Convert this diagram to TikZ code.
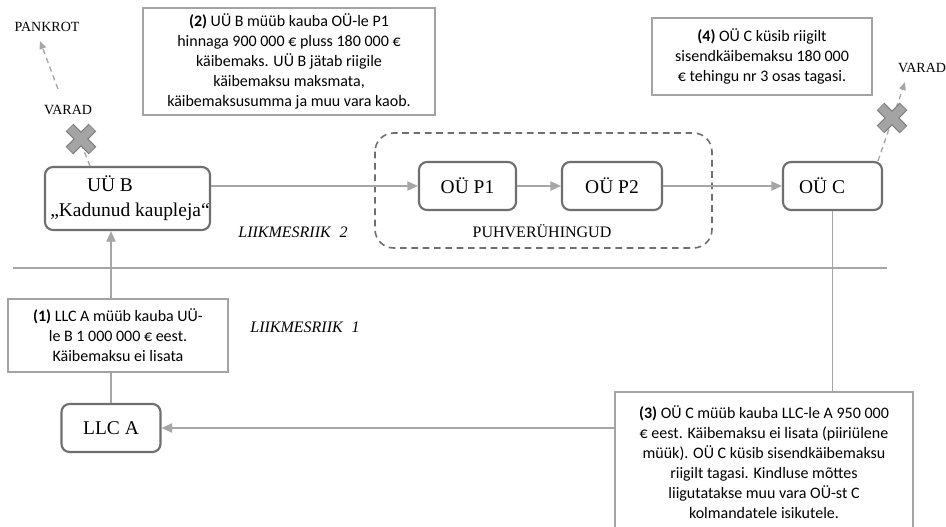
\documentclass[tikz,border=0pt]{standalone}
\usepackage{fontspec}
\setmainfont{Liberation Serif}
\newfontfamily\boxfont{Carlito}
\usetikzlibrary{arrows.meta,calc}

\definecolor{linegray}{HTML}{A6A6A6}
\definecolor{framegray}{HTML}{6F6F6F}
\definecolor{boxgray}{HTML}{A3A3A3}
\definecolor{crossfill}{HTML}{A4A4A4}
\definecolor{crossedge}{HTML}{7F7F7F}

\begin{document}
\begin{tikzpicture}[x=0.75pt,y=-0.75pt,
  firm/.style={draw=framegray, line width=1.6pt, rounded corners=6pt, fill=white, inner sep=0pt},
  firmtext/.style={font=\fontsize{14.6}{16}\selectfont, inner sep=0pt},
  notebox/.style={draw=boxgray, line width=1.3pt, fill=white, align=center, inner sep=0pt,
                  font=\boxfont\fontsize{12}{15}\selectfont},
  flow/.style={draw=linegray, line width=1.1pt, -{Triangle[length=8pt,width=7pt]}},
  link/.style={draw=linegray, line width=1.1pt},
  escape/.style={draw=linegray, line width=1pt, dash pattern=on 4pt off 3pt},
  escapearrow/.style={escape, -{Triangle[length=6pt,width=5pt]}},
  small/.style={font=\fontsize{10.5}{12}\selectfont, inner sep=0pt},
  region/.style={font=\itshape\fontsize{12}{14}\selectfont, inner sep=0pt},
  plain/.style={font=\fontsize{12}{14}\selectfont, inner sep=0pt},
  divider/.style={draw=linegray, line width=2.2pt},
  group/.style={draw=framegray, line width=1.2pt, rounded corners=14pt, dash pattern=on 5pt off 3.5pt},
]
\useasboundingbox (0,0) rectangle (946,526);
\clip (0,0) rectangle (946,526);
\fill[white] (0,0) rectangle (946,526);

% buffer companies frame
\draw[group] (375,133) rectangle (712,248);
\node[plain] (buflabel) at (542,231) {PUHVERÜHINGUD};

% divider between the member states
\coordinate (sepL) at (13,268);
\coordinate (sepR) at (887,268);

% companies
\node[firm, minimum width=123.75pt, minimum height=47.25pt] (uub) at (127.5,198.5) {};
\node[firmtext] (uubname) at (110,184) {UÜ B};
\node[firmtext] (uubnick) at (130,212) {„Kadunud kaupleja“};
\node[firm, minimum width=72.75pt, minimum height=36pt, firmtext] (p1) at (467.5,186) {OÜ P1};
\node[firm, minimum width=75pt, minimum height=36pt, firmtext] (p2) at (612,186) {OÜ P2};
\node[firm, minimum width=74.25pt, minimum height=36pt] (ouc) at (832.5,186) {};
\node[firmtext] (oucname) at (822,186) {OÜ C};
\node[firm, minimum width=74.25pt, minimum height=36pt, firmtext] (llca) at (111,428) {LLC A};

% transaction notes
\node[notebox, minimum width=219pt, minimum height=80.25pt] (note2) at (289,61.5)
  {\textbf{(2)} UÜ B müüb kauba OÜ-le P1\\hinnaga 900 000 € pluss 180 000 €\\käibemaks. UÜ B jätab riigile\\käibemaksu maksmata,\\käibemaksusumma ja muu vara kaob.};
\node[notebox, minimum width=165pt, minimum height=57.75pt] (note4) at (762,56.5)
  {\textbf{(4)} OÜ C küsib riigilt\\sisendkäibemaksu 180 000\\€ tehingu nr 3 osas tagasi.};
\node[notebox, minimum width=165pt, minimum height=54.75pt] (note1) at (118,335.5)
  {\textbf{(1)} LLC A müüb kauba UÜ-\\le B 1 000 000 € eest.\\Käibemaksu ei lisata};

% region labels
\node[region] (ms2) at (293,232) {LIIKMESRIIK\hspace{0.55em}2};
\node[region] (ms1) at (305,327) {LIIKMESRIIK\hspace{0.55em}1};

% flows of goods
\draw[flow] (p1.west -| uub.east) -- (p1.west);
\draw[flow] (p1) -- (p2);
\draw[flow] (p2) -- (ouc);
\draw[link] (llca.north) -- (llca.north |- note1.south);
\draw[flow] (llca.north |- note1.north) -- (llca.north |- uub.south);

\draw[divider] (sepL) -- (sepR);

% note (3) sits on the bottom edge
\node[notebox, minimum width=223.5pt, minimum height=105pt] (note3) at (764,462)
  {\textbf{(3)} OÜ C müüb kauba LLC-le A 950 000\\€ eest. Käibemaksu ei lisata (piiriülene\\müük). OÜ C küsib sisendkäibemaksu\\riigilt tagasi. Kindluse mõttes\\liigutatakse muu vara OÜ-st C\\kolmandatele isikutele.};
\draw[link] (ouc.south) -- (ouc.south |- note3.north);
\draw[flow] (llca.east -| note3.west) -- (llca.east);

% assets leaving UÜ B
\node[small] (pankrot) at (47,27) {PANKROT};
\node[small] (varadL) at (68,110) {VARAD};
\coordinate (uubexit) at (90,166);
\coordinate (lossL) at (73,123);
\coordinate (bankstart) at (58,89);
\coordinate (banktip) at (40,41);
\draw[escape] (uubexit) -- (lossL);
\draw[escapearrow] (bankstart) -- (banktip);

% assets leaving OÜ C
\node[small] (varadR) at (922,68) {VARAD};
\coordinate (oucexit) at (878,161);
\coordinate (lossR) at (905,82);
\draw[escapearrow] (oucexit) -- (lossR);

% blocked crosses
\foreach \cx/\cy in {81/139, 892/118} {
  \begin{scope}[shift={(\cx,\cy)}]
    \draw[crossedge, line width=8pt] (-11.5,-11.5) -- (11.5,11.5) (-11.5,11.5) -- (11.5,-11.5);
    \draw[crossfill, line width=6.2pt] (-10.9,-10.9) -- (10.9,10.9) (-10.9,10.9) -- (10.9,-10.9);
  \end{scope}
}
\end{tikzpicture}
\end{document}
